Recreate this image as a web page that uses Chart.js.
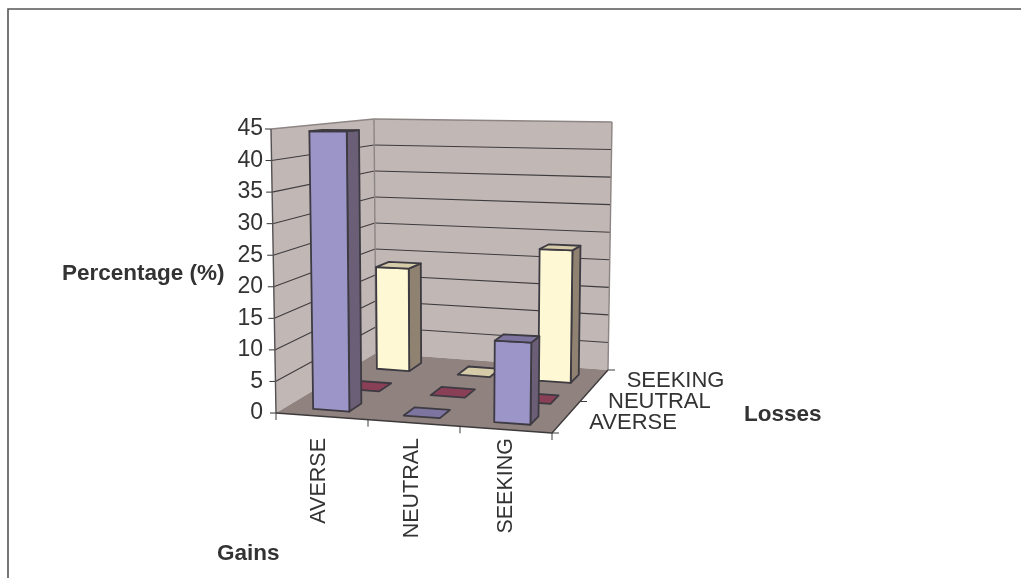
<!DOCTYPE html>
<html>
<head>
<meta charset="utf-8">
<style>
  html, body { margin: 0; padding: 0; background: #fff; }
  canvas { display: block; }
</style>
<script src="https://cdn.jsdelivr.net/npm/chart.js@4"></script>
</head>
<body>
<canvas id="chart" width="1021" height="578"></canvas>
<script>
const gainLabels = ["AVERSE", "NEUTRAL", "SEEKING"];
const lossLabels = ["AVERSE", "NEUTRAL", "SEEKING"];

// percentage per gains category, one list per losses row
const lossAverse = [44.5, 0, 12.5];
const lossNeutral = [0, 0, 0];
const lossSeeking = [18.5, 0, 23];

const COLORS = {
  AVERSE: { front: "#9b95c8", side: "#6b5f78", top: "#7d749f" },
  NEUTRAL: { front: "#a04560", side: "#6e3345", top: "#893f56" },
  SEEKING: { front: "#fff8d4", side: "#8f8270", top: "#d5cba8" }
};
const TEXT = "#333333";
const EDGE = "#3d3a42";
const BAR_FRACTION = 0.4;

// corners of the box that holds the plot, [x, y] on screen
const BOX = {
  floor: { fl: [276, 413], fr: [552, 433], bl: [376, 353], br: [608, 370] },
  roof: { fl: [271, 129], fr: [556, 130], bl: [374, 119], br: [612, 122] }
};

function mix(a, b, t) {
  return [a[0] + (b[0] - a[0]) * t, a[1] + (b[1] - a[1]) * t];
}

// u: along gains, v: along losses, w: up the value axis, all 0..1
function project(u, v, w) {
  const low = mix(mix(BOX.floor.fl, BOX.floor.fr, u), mix(BOX.floor.bl, BOX.floor.br, u), v);
  const high = mix(mix(BOX.roof.fl, BOX.roof.fr, u), mix(BOX.roof.bl, BOX.roof.br, u), v);
  return mix(low, high, w);
}

function poly(ctx, pts, fill, stroke, lineWidth) {
  ctx.beginPath();
  pts.forEach((p, i) => (i ? ctx.lineTo(p[0], p[1]) : ctx.moveTo(p[0], p[1])));
  ctx.closePath();
  if (fill) {
    ctx.fillStyle = fill;
    ctx.fill();
  }
  if (stroke) {
    ctx.strokeStyle = stroke;
    ctx.lineWidth = lineWidth;
    ctx.lineJoin = "round";
    ctx.stroke();
  }
}

function line(ctx, a, b, color, width) {
  ctx.beginPath();
  ctx.moveTo(a[0], a[1]);
  ctx.lineTo(b[0], b[1]);
  ctx.strokeStyle = color;
  ctx.lineWidth = width;
  ctx.stroke();
}

const decimalX = (scale, value) => (scale.getPixelForValue(value) - scale.left) / scale.width;
const decimalY = (scale, value) => (scale.bottom - scale.getPixelForValue(value)) / scale.height;

function drawWalls(chart) {
  const { ctx, scales } = chart;
  const { y, z, x } = scales;

  // sheet border, open on the right and at the bottom
  ctx.beginPath();
  ctx.moveTo(8, 578);
  ctx.lineTo(8, 9);
  ctx.lineTo(1021, 9);
  ctx.strokeStyle = "#555555";
  ctx.lineWidth = 1.6;
  ctx.stroke();

  poly(ctx, [project(0, 0, 0), project(0, 1, 0), project(0, 1, 1), project(0, 0, 1)], "#c1b8b6");
  poly(ctx, [project(0, 1, 0), project(1, 1, 0), project(1, 1, 1), project(0, 1, 1)], "#c1b8b6");
  poly(ctx, [project(0, 0, 0), project(1, 0, 0), project(1, 1, 0), project(0, 1, 0)], "#8f827f");

  y.ticks.forEach(t => {
    const w = decimalY(y, t.value);
    if (t.value > 0 && t.value < 45) {
      line(ctx, project(0, 0, w), project(0, 1, w), "#3f3b3d", 1.1);
      line(ctx, project(0, 1, w), project(1, 1, w), "#3f3b3d", 1.1);
    }
    const a = project(0, 0, w);
    line(ctx, [a[0] - 6, a[1]], a, "#333333", 1);
  });

  // wall outlines
  line(ctx, project(0, 0, 1), project(0, 1, 1), "#8d8583", 1.4);
  line(ctx, project(0, 1, 1), project(1, 1, 1), "#8d8583", 1.4);
  line(ctx, project(0, 1, 0), project(0, 1, 1), "#8d8583", 1.4);
  line(ctx, project(1, 1, 0), project(1, 1, 1), "#8d8583", 1.4);
  line(ctx, project(0, 0, 0), project(0, 0, 1), "#555052", 1.4);

  // floor edges and their ticks
  line(ctx, project(0, 0, 0), project(1, 0, 0), "#3d3a3c", 1.4);
  line(ctx, project(1, 0, 0), project(1, 1, 0), "#3d3a3c", 1.4);
  for (let i = 0; i <= x.ticks.length; i++) {
    const a = project(i / x.ticks.length, 0, 0);
    line(ctx, a, [a[0], a[1] + 7], "#3d3a3c", 1);
  }
  for (let i = 0; i <= z.ticks.length; i++) {
    const a = project(1, i / z.ticks.length, 0);
    line(ctx, a, [a[0] + 7, a[1]], "#3d3a3c", 1);
  }
}

function drawBar(ctx, u, v, w, halfU, halfV, c) {
  const u0 = u - halfU, u1 = u + halfU, v0 = v - halfV, v1 = v + halfV;
  const top = [project(u0, v0, w), project(u1, v0, w), project(u1, v1, w), project(u0, v1, w)];
  if (w > 0) {
    poly(ctx, [project(u1, v0, 0), project(u1, v1, 0), project(u1, v1, w), project(u1, v0, w)], c.side, EDGE, 1.8);
    poly(ctx, [project(u0, v0, 0), project(u1, v0, 0), project(u1, v0, w), project(u0, v0, w)], c.front, EDGE, 1.8);
  }
  poly(ctx, top, c.top, EDGE, 1.8);
}

function drawBars(chart) {
  const { ctx, scales } = chart;
  const { x, y, z } = scales;
  const halfU = BAR_FRACTION / gainLabels.length / 2;
  const halfV = BAR_FRACTION / lossLabels.length / 2;
  // back row first so nearer bars cover it
  for (let row = lossLabels.length - 1; row >= 0; row--) {
    const ds = chart.data.datasets[row];
    ds.data.forEach((value, i) => {
      drawBar(ctx, decimalX(x, gainLabels[i]), decimalX(z, lossLabels[row]), decimalY(y, value),
        halfU, halfV, COLORS[ds.label]);
    });
  }
}

function drawTexts(chart) {
  const { ctx, scales } = chart;
  const { z } = scales;
  ctx.fillStyle = TEXT;
  ctx.textBaseline = "middle";
  ctx.textAlign = "left";

  ctx.font = "22px 'Liberation Sans'";
  lossLabels.forEach(label => {
    const a = project(1, decimalX(z, label), 0);
    ctx.fillText(label, a[0] + 28, a[1]);
  });

  ctx.font = "bold 22.5px 'Liberation Sans'";
  ctx.fillText("Percentage (%)", 62, 274);
  ctx.fillText("Losses", 744, 415);
  ctx.fillText("Gains", 217, 554);
}

const scene3d = {
  id: "scene3d",
  beforeDraw: drawWalls,
  afterDatasetsDraw: drawBars,
  afterDraw: drawTexts
};

Chart.defaults.font.family = "'Liberation Sans'";
Chart.defaults.font.size = 22;
Chart.defaults.color = TEXT;

new Chart(document.getElementById("chart"), {
  type: "bar",
  data: {
    labels: gainLabels,
    datasets: [
      { label: "AVERSE", data: lossAverse, backgroundColor: "transparent" },
      { label: "NEUTRAL", data: lossNeutral, backgroundColor: "transparent" },
      { label: "SEEKING", data: lossSeeking, backgroundColor: "transparent" }
    ]
  },
  options: {
    responsive: false,
    animation: false,
    layout: { padding: { left: 0, top: 129, right: 468, bottom: 0 } },
    plugins: { legend: { display: false }, tooltip: { enabled: false } },
    scales: {
      x: {
        grid: { display: false },
        border: { display: false },
        ticks: { autoSkip: false, minRotation: 90, maxRotation: 90, padding: 17, font: { size: 21.5 } },
        afterFit: s => { s.height = 165; }
      },
      z: { type: "category", axis: "x", labels: lossLabels, display: false },
      y: {
        min: 0,
        max: 45,
        grid: { display: false },
        border: { display: false },
        ticks: { stepSize: 5, padding: 1, font: { size: 23 } },
        afterFit: s => { s.width = 272; }
      }
    }
  },
  plugins: [scene3d]
});
</script>
</body>
</html>
